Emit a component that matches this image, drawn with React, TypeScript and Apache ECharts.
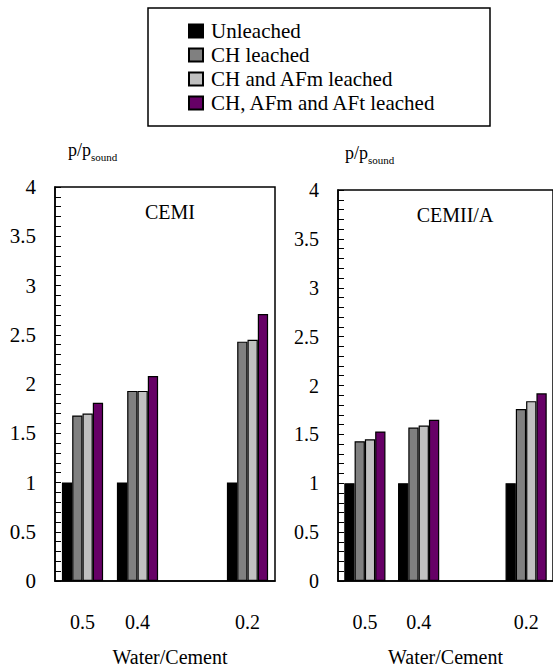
import React, { useEffect, useRef } from "react";
import * as echarts from "echarts";

const categories = ["0.5", "0.4", "", "0.2"];
const seriesNames = [
  "Unleached",
  "CH leached",
  "CH and AFm leached",
  "CH, AFm and AFt leached",
];
const seriesColors = ["#000000", "#808080", "#C0C0C0", "#660066"];

// CEMI panel
const cemiUnleached = [1.0, 1.0, null, 1.0];
const cemiCH = [1.68, 1.93, null, 2.43];
const cemiCHAFm = [1.7, 1.93, null, 2.45];
const cemiAll = [1.81, 2.08, null, 2.71];

// CEMII/A panel
const cemiiUnleached = [1.0, 1.0, null, 1.0];
const cemiiCH = [1.43, 1.57, null, 1.76];
const cemiiCHAFm = [1.45, 1.59, null, 1.84];
const cemiiAll = [1.53, 1.65, null, 1.92];

const yTicksMin = 0;
const yTicksMax = 4;
const yTicksStep = 0.5;

const FONT = "Liberation Serif, serif";

export default function App() {
  const ref = useRef<HTMLDivElement>(null);

  useEffect(() => {
    if (!ref.current) return;
    const chart = echarts.init(ref.current, null, { renderer: "svg" });

    const panels = [
      [cemiUnleached, cemiCH, cemiCHAFm, cemiAll],
      [cemiiUnleached, cemiiCH, cemiiCHAFm, cemiiAll],
    ];

    const series: any[] = [];
    panels.forEach((panel, pi) => {
      panel.forEach((data, si) => {
        series.push({
          type: "bar",
          name: seriesNames[si],
          xAxisIndex: pi,
          yAxisIndex: pi,
          data,
          barWidth: 10.3,
          barGap: "0%",
          itemStyle: {
            color: seriesColors[si],
            borderColor: "#000",
            borderWidth: 1.2,
          },
        });
      });
    });

    const yLabelSize = [21, 20];

    const makeX = (gi: number, namePad: number[]) => ({
      type: "category",
      gridIndex: gi,
      data: categories,
      axisLine: { show: true, lineStyle: { color: "#000", width: 1.5 } },
      axisTick: { show: false },
      axisLabel: {
        color: "#000",
        fontFamily: FONT,
        fontSize: 20,
        margin: 31,
        interval: 0,
      },
      name: "Water/Cement",
      nameLocation: "middle",
      nameGap: 66,
      nameTextStyle: {
        color: "#000",
        fontFamily: FONT,
        fontSize: 20,
        padding: namePad,
      },
    });

    const makeY = (gi: number, labelSize: number, namePadLeft: number) => ({
      type: "value",
      gridIndex: gi,
      min: yTicksMin,
      max: yTicksMax,
      interval: yTicksStep,
      axisLine: { show: true, lineStyle: { color: "#000", width: 1.5 } },
      axisTick: {
        show: true,
        inside: true,
        length: 6,
        lineStyle: { color: "#000", width: 1 },
      },
      minorTick: {
        show: true,
        splitNumber: 5,
        length: 6,
        lineStyle: { color: "#000", width: 1 },
      },
      splitLine: { show: false },
      axisLabel: {
        color: "#000",
        fontFamily: FONT,
        fontSize: labelSize,
        margin: 19,
      },
      name: "{a|p/p}{b|sound}",
      nameLocation: "end",
      nameGap: 25,
      nameTextStyle: {
        align: "left",
        fontFamily: FONT,
        padding: [0, 0, 0, namePadLeft],
        rich: {
          a: {
            fontFamily: FONT,
            fontSize: 18,
            color: "#000",
            verticalAlign: "bottom",
            padding: [0, 0, 3, 0],
          },
          b: {
            fontFamily: FONT,
            fontSize: 11,
            color: "#000",
            verticalAlign: "bottom",
          },
        },
      },
    });

    chart.setOption({
      animation: false,
      backgroundColor: "#fff",
      textStyle: { fontFamily: FONT },
      legend: {
        data: seriesNames,
        orient: "vertical",
        left: 188,
        top: 19,
        padding: 0,
        itemGap: 0,
        itemWidth: 14,
        itemHeight: 13,
        icon: "rect",
        selectedMode: false,
        textStyle: {
          color: "#000",
          fontFamily: FONT,
          fontSize: 21,
          lineHeight: 24,
          padding: [0, 0, 0, 3],
        },
      },
      grid: [
        {
          left: 55,
          top: 187,
          width: 220,
          height: 400,
          show: true,
          borderColor: "#000",
          borderWidth: 1.5,
          backgroundColor: "transparent",
        },
        {
          left: 338,
          top: 190,
          width: 220,
          height: 392,
          show: true,
          borderColor: "#000",
          borderWidth: 1.5,
          backgroundColor: "transparent",
        },
      ],
      xAxis: [makeX(0, [0, 0, 0, 10]), makeX(1, [0, 0, 0, 0])],
      yAxis: [makeY(0, yLabelSize[0], 13), makeY(1, yLabelSize[1], 7)],
      graphic: [
        {
          type: "rect",
          shape: { x: 148, y: 8, width: 342, height: 118 },
          style: { fill: "none", stroke: "#000", lineWidth: 1.5 },
          z: 10,
        },
        {
          type: "text",
          x: 170,
          y: 212,
          style: {
            text: "CEMI",
            font: `20px ${FONT}`,
            fill: "#000",
            textAlign: "center",
            textVerticalAlign: "middle",
          },
        },
        {
          type: "text",
          x: 455,
          y: 215,
          style: {
            text: "CEMII/A",
            font: `20px ${FONT}`,
            fill: "#000",
            textAlign: "center",
            textVerticalAlign: "middle",
          },
        },
      ],
      series,
    });

    return () => {
      chart.dispose();
    };
  }, []);

  return (
    <div
      ref={ref}
      style={{
        position: "fixed",
        left: 0,
        top: 0,
        width: 553,
        height: 672,
        background: "#fff",
      }}
    />
  );
}
